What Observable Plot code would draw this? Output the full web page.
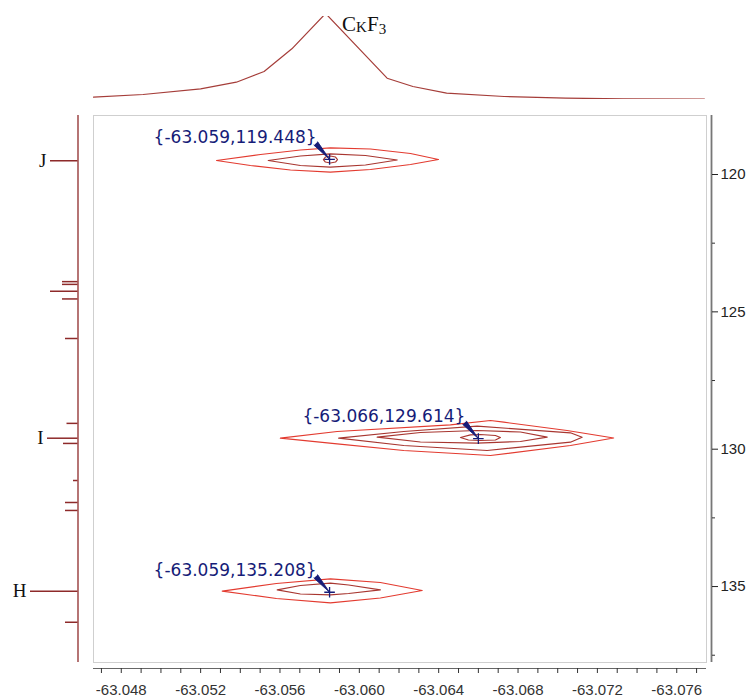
<!DOCTYPE html>
<html><head><meta charset="utf-8">
<script src="https://cdn.jsdelivr.net/npm/d3@7"></script>
<script src="https://cdn.jsdelivr.net/npm/@observablehq/plot@0.6"></script>
<style>
body{margin:0;background:#fff;}
#wrap{position:relative;width:750px;height:700px;}
#wrap svg{position:absolute;left:0;top:0;}
</style></head><body><div id="wrap"></div>
<script>
// ---------- Top projection (F2, ppm) ----------
const topPpm = [-63.0466, -63.0491, -63.0520, -63.0538, -63.0552, -63.0566, -63.0583, -63.0614, -63.0627, -63.0644, -63.0673, -63.0704, -63.0733, -63.0774];
const topInt = [2.3, 5.0, 10.7, 17.3, 28.0, 50.7, 86.0, 21.3, 13.0, 6.3, 3.0, 1.3, 0.7, 0.3];

// ---------- Left projection (F1, ppm) ----------
const leftPpm   = [119.50, 123.90, 124.00, 124.25, 124.53, 125.97, 129.06, 129.60, 129.79, 131.14, 131.94, 132.23, 135.17, 136.30];
const leftInt   = [27.5, 15.5, 15.5, 27.5, 15.5, 12.5, 11.0, 30.5, 14.5, 4.5, 12.5, 12.5, 47.5, 12.5];
const leftLabel = ["J", "", "", "", "", "", "", "I", "", "", "", "", "H", ""];

// ---------- Cross peaks ----------
const peakX = [-63.0585, -63.0660, -63.0585];
const peakY = [119.448, 129.614, 135.208];
const peakText = ["{-63.059,119.448}", "{-63.066,129.614}", "{-63.059,135.208}"];

// ---------- Contours (x ppm, y ppm) ----------
const contourJ1 = [[-63.05280,119.490],[-63.05502,119.272],[-63.05703,119.108],[-63.05854,119.028],[-63.06056,119.072],[-63.06258,119.235],[-63.06399,119.454],[-63.06258,119.636],[-63.06056,119.818],[-63.05854,119.916],[-63.05653,119.836],[-63.05451,119.672]];
const contourJ2 = [[-63.05541,119.490],[-63.05703,119.326],[-63.05854,119.246],[-63.06031,119.308],[-63.06191,119.472],[-63.06031,119.654],[-63.05854,119.734],[-63.05703,119.672]];
const contourJ3 = [[-63.05819,119.454],[-63.05829,119.363],[-63.05854,119.326],[-63.05880,119.363],[-63.05890,119.454],[-63.05880,119.545],[-63.05854,119.581],[-63.05829,119.545]];
const contourI1 = [[-63.05602,129.599],[-63.05888,129.355],[-63.06459,129.112],[-63.06661,128.955],[-63.06728,129.017],[-63.07047,129.319],[-63.07282,129.592],[-63.07064,129.865],[-63.06661,130.229],[-63.06224,130.047],[-63.05888,129.803]];
const contourI2 = [[-63.05896,129.599],[-63.06224,129.355],[-63.06594,129.162],[-63.07064,129.403],[-63.07123,129.563],[-63.07064,129.745],[-63.06644,130.047],[-63.06224,129.865]];
const contourI3 = [[-63.06090,129.563],[-63.06308,129.392],[-63.06594,129.319],[-63.06812,129.374],[-63.06947,129.563],[-63.06812,129.719],[-63.06594,129.781],[-63.06308,129.738]];
const contourI4 = [[-63.06510,129.574],[-63.06560,129.476],[-63.06610,129.465],[-63.06686,129.501],[-63.06711,129.574],[-63.06686,129.665],[-63.06610,129.683],[-63.06550,129.665]];
const contourH1 = [[-63.05309,135.169],[-63.05582,134.889],[-63.05854,134.718],[-63.06106,134.852],[-63.06317,135.143],[-63.06106,135.416],[-63.05854,135.591],[-63.05582,135.435]];
const contourH2 = [[-63.05586,135.118],[-63.05703,134.961],[-63.05854,134.878],[-63.05946,134.943],[-63.06106,135.118],[-63.05946,135.253],[-63.05854,135.300],[-63.05703,135.271]];

// ---------- Ticks ----------
const xTickLabels = [-63.048, -63.052, -63.056, -63.060, -63.064, -63.068, -63.072, -63.076];
const xMinorTicks = d3.range(0, 31).map(i => -63.047 - i * 0.001);
const yTickLabels = [120, 125, 130, 135];
const yMinorTicks = [122.5, 127.5, 132.5, 137.5];

(function () {
const W = 750, H = 700, mL = 93, mR = 44, mT = 115, mB = 38;
const xDomain = [-63.0466, -63.0775];
const yDomain = [117.852, 137.765];
const navy = "#161c78";

const contours = [
  {id: "J1", level: 1, pts: contourJ1}, {id: "J2", level: 2, pts: contourJ2}, {id: "J3", level: 3, pts: contourJ3},
  {id: "I1", level: 1, pts: contourI1}, {id: "I2", level: 2, pts: contourI2}, {id: "I3", level: 3, pts: contourI3}, {id: "I4", level: 4, pts: contourI4},
  {id: "H1", level: 1, pts: contourH1}, {id: "H2", level: 2, pts: contourH2}
];
const contourRows = contours.flatMap(c => c.pts.map(([x, y]) => ({x, y, id: c.id, level: c.level})));
const peaks = peakX.map((x, i) => ({x, y: peakY[i], text: peakText[i]}));

const isLabeled = d => xTickLabels.some(t => Math.abs(t - d) < 1e-7);

const mainSvg = Plot.plot({
  width: W, height: H, marginLeft: mL, marginRight: mR, marginTop: mT, marginBottom: mB,
  style: {background: "transparent", fontFamily: "'Liberation Sans', Arial, sans-serif", fontSize: "15px", color: "#222"},
  x: {domain: xDomain, axis: null},
  y: {domain: yDomain, reverse: true, axis: null},
  marks: [
    Plot.frame({stroke: "#cfcfcf"}),
    Plot.line(contourRows.filter(d => d.level === 1), {x: "x", y: "y", z: "id", curve: "linear-closed", stroke: "#e33b30", strokeWidth: 1.2}),
    Plot.line(contourRows.filter(d => d.level > 1), {x: "x", y: "y", z: "id", curve: "linear-closed", stroke: "#a83630", strokeWidth: 1.2}),
    Plot.ruleY([yDomain[1]], {dy: 6, stroke: "#666", strokeWidth: 1.2}),
    Plot.ruleX([xDomain[1]], {dx: 5, stroke: "#777", strokeWidth: 1.8}),
    Plot.axisX(xMinorTicks, {anchor: "bottom", label: null, dy: 6, tickSize: 5, tickPadding: 11, color: "#333",
      tickFormat: d => isLabeled(d) ? d.toFixed(3) : ""}),
    Plot.axisY(yMinorTicks, {anchor: "right", label: null, dx: 5, tickSize: 3, tickFormat: () => "", color: "#333"}),
    Plot.axisY(yTickLabels, {anchor: "right", label: null, dx: 5, tickSize: 6, tickPadding: 3, color: "#222", tickFormat: d => String(d)}),
    Plot.vector(peaks, {x: "x", y: "y", length: 21, rotate: 139, anchor: "end", shape: "spike", r: 2.5, fill: navy, stroke: navy, strokeWidth: 0.8}),
    Plot.dot(peaks, {x: "x", y: "y", symbol: "plus", r: 3.5, stroke: navy, strokeWidth: 1.3}),
    Plot.text(peaks, {x: "x", y: "y", text: "text", dx: -13, dy: -22, textAnchor: "end", fill: navy, fontFamily: "'DejaVu Sans', sans-serif", fontSize: 17})
  ]
});

const leftRows = leftPpm.map((p, i) => ({ppm: p, h: leftInt[i], label: leftLabel[i]}));
const leftSvg = Plot.plot({
  width: 93, height: H, marginLeft: 0, marginRight: 15.5, marginTop: mT, marginBottom: mB,
  style: {background: "transparent"},
  x: {domain: [0, 77.5], reverse: true, axis: null},
  y: {domain: yDomain, reverse: true, axis: null},
  marks: [
    Plot.ruleX([0], {stroke: "#8e2a2a", strokeWidth: 1.3}),
    Plot.ruleY(leftRows, {y: "ppm", x1: 0, x2: "h", stroke: "#8e2a2a", strokeWidth: 1.5}),
    Plot.text(leftRows.filter(d => d.label), {x: "h", y: "ppm", text: "label", dx: -4, textAnchor: "end",
      fontFamily: "'Liberation Serif', serif", fontSize: 19, fill: "#111"})
  ]
});

const topRows = topPpm.map((p, i) => ({ppm: p, v: topInt[i]}));
const topSvg = Plot.plot({
  width: W, height: 110, marginLeft: mL, marginRight: mR, marginTop: 16, marginBottom: 11,
  style: {background: "transparent"},
  x: {domain: xDomain, axis: null},
  y: {domain: [0, 83], axis: null},
  marks: [
    Plot.line(topRows, {x: "ppm", y: "v", stroke: "#a53d39", strokeWidth: 1.2, clip: true})
  ]
});
const apex = topPpm[topInt.indexOf(d3.max(topInt))];
const tx = topSvg.scale("x").apply(apex) + 17;
const lab = d3.select(topSvg).append("text").attr("x", tx).attr("y", 31).attr("text-anchor", "start")
  .attr("font-family", "'Liberation Serif', serif").attr("font-size", 21).attr("fill", "#111");
lab.append("tspan").text("C");
lab.append("tspan").attr("font-size", 15).attr("dy", 1).text("K");
lab.append("tspan").attr("dy", -1).text("F");
lab.append("tspan").attr("font-size", 15).attr("dy", 3).text("3");

const wrap = document.getElementById("wrap");
wrap.appendChild(mainSvg);
wrap.appendChild(leftSvg);
wrap.appendChild(topSvg);
})();
</script></body></html>
